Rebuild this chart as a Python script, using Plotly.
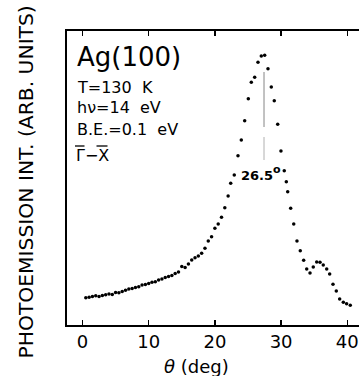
import plotly.graph_objects as go

# Angle (deg) and photoemission intensity (arb. units)
theta = [0.5, 1.0, 1.5, 2.0, 2.5, 3.0, 3.5, 4.0, 4.5, 5.0, 5.5, 6.0, 6.5, 7.0, 7.5,
         8.0, 8.5, 9.0, 9.5, 10.0, 10.5, 11.0, 11.5, 12.0, 12.5, 13.0, 13.5, 14.0,
         14.5, 15.0, 15.5, 16.0, 16.5, 17.0, 17.5, 18.0, 18.5, 19.0, 19.5, 20.0,
         20.5, 21.0, 21.5, 22.0,
         22.39, 22.93, 23.49, 23.99, 24.50, 25.05, 25.50, 26.01, 26.51, 27.01,
         27.52, 28.02, 28.52, 28.97, 29.49, 29.98, 30.48, 30.79, 31.00, 31.45,
         31.91, 32.40, 32.90, 33.41, 33.87, 34.37, 34.86, 35.38, 35.88, 36.37,
         36.89, 37.34, 37.84, 38.34, 38.85, 39.40, 39.90, 40.45]
intensity = [27.3, 27.7, 28.5, 29.2, 28.4, 29.6, 30.2, 31.0, 30.5, 32.5, 32.2, 33.5,
             34.8, 36.0, 36.4, 37.5, 38.2, 40.0, 40.5, 41.5, 42.8, 43.2, 45.0, 46.0,
             47.5, 48.5, 49.5, 51.5, 53.0, 58.5, 57.5, 61.0, 65.0, 67.3, 69.0, 71.7,
             76.7, 84.0, 88.3, 96.7, 101.0, 107.7, 117.3, 129.0,
             141.7, 150.0, 169.3, 185.0, 204.3, 226.3, 242.7, 247.7, 262.7, 269.0,
             269.7, 256.3, 238.0, 224.3, 200.7, 174.0, 154.3, 143.3, 133.3, 116.7,
             101.0, 84.0, 74.3, 64.7, 56.0, 52.0, 58.0, 63.0, 62.7, 60.0, 56.0, 51.0,
             40.7, 34.0, 26.0, 22.7, 21.3, 19.7]

tick_vals = [0, 10, 20, 30, 40]
tick_text = ["0", "10", "20", "30", "40"]

peak_angle = 27.42
peak_label = "26.5"
marker_seg1 = [253, 198]
marker_seg2 = [188, 165]

FONT = "DejaVu Sans"
L, T, W, H = 67, 31, 292, 294


def px(x):
    return (x - L) / W


def py(y):
    return (T + H - y) / H


fig = go.Figure()
fig.add_trace(go.Scatter(x=theta, y=intensity, mode="markers",
                         marker=dict(color="black", size=3.5),
                         showlegend=False, hoverinfo="skip"))

fig.add_shape(type="line", xref="x", yref="y", x0=peak_angle, x1=peak_angle,
              y0=marker_seg1[0], y1=marker_seg1[1], line=dict(color="#9a9a9a", width=1.2))
fig.add_shape(type="line", xref="x", yref="y", x0=peak_angle, x1=peak_angle,
              y0=marker_seg2[0], y1=marker_seg2[1], line=dict(color="#bdbdbd", width=1.2))

ann = [
    dict(text="Ag(100)", x=px(75), y=py(57), size=26),
    dict(text="T=130  K", x=px(75), y=py(87), size=16),
    dict(text="hν=14  eV", x=px(75), y=py(107.5), size=16),
    dict(text="B.E.=0.1  eV", x=px(75), y=py(129.5), size=16),
    dict(text="Γ\u2212X", x=px(74), y=py(155), size=16),
]
for a in ann:
    fig.add_annotation(text=a["text"], x=a["x"], y=a["y"], xref="paper", yref="paper",
                       xanchor="left", yanchor="middle", showarrow=False,
                       font=dict(family=FONT, size=a["size"], color="black"))

# overlines above Gamma and X
for x0, x1 in [(75, 84.5), (96.5, 107.5)]:
    fig.add_shape(type="line", xref="paper", yref="paper", x0=px(x0), x1=px(x1),
                  y0=py(146), y1=py(146), line=dict(color="black", width=1.3))

fig.add_annotation(text="<b>" + peak_label + "</b>", x=px(257), y=py(175.5),
                   xref="paper", yref="paper", xanchor="center", yanchor="middle",
                   showarrow=False, font=dict(family=FONT, size=13, color="black"))
fig.add_annotation(text="<b>o</b>", x=px(276.5), y=py(169.5),
                   xref="paper", yref="paper", xanchor="center", yanchor="middle",
                   showarrow=False, font=dict(family=FONT, size=11, color="black"))

fig.add_annotation(text="PHOTOEMISSION INT. (ARB. UNITS)", x=px(25), y=py(182.5),
                   xref="paper", yref="paper", textangle=-90, showarrow=False,
                   xanchor="center", yanchor="middle",
                   font=dict(family=FONT, size=20.3, color="black"))

fig.add_annotation(text="<i>θ</i> (deg)", x=px(196), y=py(366),
                   xref="paper", yref="paper", showarrow=False,
                   xanchor="center", yanchor="middle",
                   font=dict(family=FONT, size=18, color="black"))

fig.update_xaxes(range=[-2.34, 41.77], tickvals=tick_vals, ticktext=tick_text,
                 ticks="inside", ticklen=5, tickwidth=1.5, tickcolor="black",
                 showline=True, linecolor="black", linewidth=1.6, mirror="ticks",
                 showgrid=False, zeroline=False,
                 tickfont=dict(family=FONT, size=18, color="black"))
fig.update_yaxes(range=[0, 294], showticklabels=False, ticks="",
                 showline=True, linecolor="black", linewidth=1.6, mirror=False,
                 showgrid=False, zeroline=False)

fig.update_layout(width=359, height=376,
                  margin=dict(l=L, r=0, t=T, b=376 - T - H),
                  plot_bgcolor="white", paper_bgcolor="white",
                  font=dict(family=FONT))

fig.write_html("out.html", config={"displayModeBar": False, "staticPlot": True},
               post_script="document.body.style.margin='0';document.body.style.overflow='hidden';")
